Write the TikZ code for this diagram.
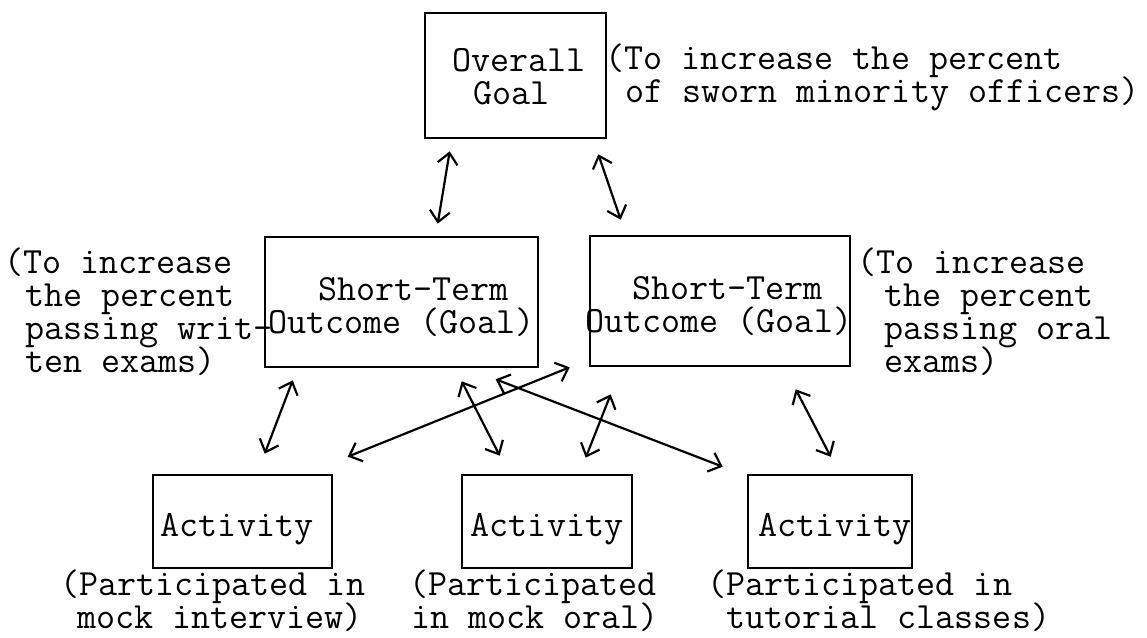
\documentclass[tikz,border=0pt]{standalone}
\usetikzlibrary{arrows.meta,calc}
\newcommand{\fl}{\rule{0pt}{28pt}}
\newcommand{\twfont}{\ttfamily\fontsize{37}{33}\selectfont\lineskiplimit=-100pt\relax}
\begin{document}
\begin{tikzpicture}[x=1pt,y=-1pt,
  box/.style={font=\twfont,draw=black,line width=2.6pt,rectangle,inner sep=0pt,align=left},
  txt/.style={font=\twfont,anchor=north west,align=left,inner sep=0pt},
  arr/.style={line width=2.2pt,{Straight Barb[length=11pt,width=20pt]}-{Straight Barb[length=11pt,width=20pt]}}]
\fill[white] (0,0) rectangle (1147,637);
\useasboundingbox (0,0) rectangle (1147,637);
% boxes with their texts
\node[box,minimum width=181pt,minimum height=125pt] (og)  at (515.5,75.5)
  {\hspace*{7pt}\rule{0pt}{26pt}Overall\\\hspace*{28pt}Goal};
\node[box,minimum width=273pt,minimum height=130pt] (stl) at (401.5,302)
  {\rule{0pt}{34pt}\hspace*{50pt}Short-Term\\Outcome (Goal)};
\node[box,minimum width=260pt,minimum height=130pt,text width=260pt] (str) at (720,301)
  {\rule{0pt}{34pt}\hspace*{42pt}Short-Term\\\hspace*{-5pt}\mbox{Outcome}\hspace*{19.425pt}\mbox{(Goal)}};
\node[box,minimum width=179pt,minimum height=93pt]  (a1)  at (242.5,521.5)
  {\rule{0pt}{39pt}Activity\hspace*{11pt}};
\node[box,minimum width=170pt,minimum height=93pt]  (a2)  at (547,521.5)
  {\rule{0pt}{39pt}Activity};
\node[box,minimum width=164pt,minimum height=93pt]  (a3)  at (830,521.5)
  {\rule{0pt}{39pt}\hspace*{10pt}Activity};
% annotations (position = first baseline minus 28pt)
\node[txt] (n1) at (605,41)  {\fl(To increase the percent\\\hspace*{20pt}of sworn minority officers)};
\node[txt] (n2) at (4,245)   {\fl(To increase\\\hspace*{21pt}the percent\\\hspace*{21pt}passing writ-\\\hspace*{21pt}ten exams)};
\node[txt] (n3) at (857,245) {\fl(To increase\\\hspace*{27pt}the percent\\\hspace*{27pt}passing oral\\\hspace*{27pt}exams)};
\node[txt] (n4) at (60,567)  {\fl(Participated in\\\hspace*{17pt}mock interview)};
\node[txt] (n5) at (409,567) {\fl(Participated\\\hspace*{2pt}in mock oral)};
\node[txt] (n6) at (707,567) {\fl(Participated in\\\hspace*{19pt}tutorial classes)};
% connectors
\draw[arr] ($(og.south west)+(26,12)$) -- ($(stl.north west)+(174,-12)$);
\draw[arr] ($(og.south east)+(-9,15)$) -- ($(str.north west)+(32,-15)$);
\draw[arr] ($(stl.south west)+(29,12)$) -- ($(a1.north west)+(113,-20)$);
\draw[arr] ($(stl.south west)+(198,13)$) -- ($(a2.north west)+(39,-18)$);
\draw[arr] ($(a1.north west)+(196,-17)$) -- ($(str.south west)+(-19,0)$);
\draw[arr] ($(stl.south west)+(232,11)$) -- ($(a3.north west)+(-24,-7)$);
\draw[arr] ($(str.south west)+(22,27)$) -- ($(a2.north west)+(125,-16)$);
\draw[arr] ($(str.south west)+(207,22)$) -- ($(a3.north west)+(84,-17)$);
\end{tikzpicture}
\end{document}
